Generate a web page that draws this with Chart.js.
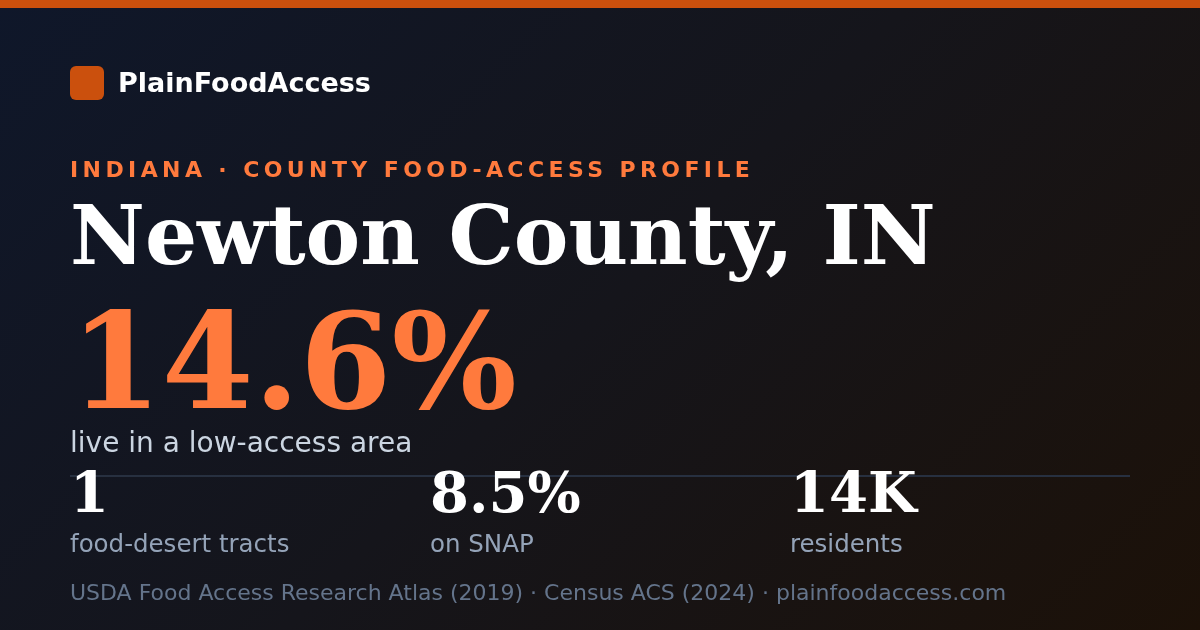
<!DOCTYPE html>
<html>
<head>
<meta charset="utf-8">
<script src="https://cdn.jsdelivr.net/npm/chart.js@4.4.1/dist/chart.umd.min.js"></script>
<style>
  html, body { margin: 0; padding: 0; background: #13151c; }
  #wrap { width: 1200px; height: 630px; position: relative; }
</style>
</head>
<body>
<div id="wrap"><canvas id="card"></canvas></div>
<script>
// card content
const brand = 'PlainFoodAccess';
const eyebrow = 'INDIANA · COUNTY FOOD-ACCESS PROFILE';
const county = 'Newton County, IN';
const headline = '14.6%';
const headlineLabel = 'live in a low-access area';
const statValues = ['1', '8.5%', '14K'];
const statLabels = ['food-desert tracts', 'on SNAP', 'residents'];
const footer = 'USDA Food Access Research Atlas (2019) · Census ACS (2024) · plainfoodaccess.com';

const SANS = '"DejaVu Sans", sans-serif';
const SERIF = '"DejaVu Serif", serif';

const cardPlugin = {
  id: 'card',
  beforeDraw(chart) {
    const c = chart.ctx, w = chart.width, h = chart.height;
    c.save();
    // 135deg gradient like css
    const half = (w + h) * Math.SQRT1_2 / 2 * Math.SQRT1_2;
    const g = c.createLinearGradient(w / 2 - half, h / 2 - half, w / 2 + half, h / 2 + half);
    g.addColorStop(0, '#0f172a');
    g.addColorStop(0.5, '#15151b');
    g.addColorStop(1, '#1c1108');
    c.fillStyle = g;
    c.fillRect(0, 0, w, h);
    // top strip
    c.fillStyle = '#cb500d';
    c.fillRect(0, 0, w, 8);
    c.restore();
  },
  afterDraw(chart) {
    const c = chart.ctx;
    c.save();
    c.textBaseline = 'alphabetic';
    c.textAlign = 'left';

    // logo
    c.fillStyle = '#cb500d';
    c.beginPath();
    c.roundRect(70, 66, 34, 34, 6);
    c.fill();
    c.fillStyle = '#ffffff';
    c.font = 'bold 27px ' + SANS;
    c.fillText(brand, 118, 92);

    // eyebrow
    c.fillStyle = '#ff7a3d';
    c.font = 'bold 22px ' + SANS;
    c.letterSpacing = '4.4px';
    c.fillText(eyebrow, 70, 177);
    c.letterSpacing = '0px';

    // county name
    c.fillStyle = '#ffffff';
    c.font = 'bold 82px ' + SERIF;
    c.fillText(county, 70, 264);

    // headline number
    c.fillStyle = '#ff7a3d';
    c.font = 'bold 132px ' + SERIF;
    c.fillText(headline, 70, 408);

    c.fillStyle = '#cbd5e1';
    c.font = '28px ' + SANS;
    c.fillText(headlineLabel, 70, 452);

    // divider
    c.strokeStyle = '#273040';
    c.lineWidth = 2;
    c.beginPath();
    c.moveTo(70, 476);
    c.lineTo(1130, 476);
    c.stroke();

    // stats placed through the x scale
    const meta = chart.getDatasetMeta(0);
    meta.data.forEach((pt, i) => {
      c.fillStyle = '#ffffff';
      c.font = 'bold 56px ' + SERIF;
      c.fillText(statValues[i], pt.x, 512);
      c.fillStyle = '#94a3b8';
      c.font = '24.5px ' + SANS;
      c.fillText(statLabels[i], pt.x, 552);
    });

    // footer
    c.fillStyle = '#64748b';
    c.font = '22px ' + SANS;
    c.fillText(footer, 70, 600);
    c.restore();
  }
};

new Chart(document.getElementById('card'), {
  type: 'scatter',
  data: {
    datasets: [{
      data: statValues.map((v, i) => ({ x: i, y: 0 })),
      pointRadius: 0,
      pointHoverRadius: 0
    }]
  },
  options: {
    responsive: true,
    maintainAspectRatio: false,
    animation: false,
    events: [],
    layout: { padding: { left: 70, right: 50, top: 0, bottom: 0 } },
    plugins: { legend: { display: false }, tooltip: { enabled: false } },
    scales: {
      x: { type: 'linear', min: 0, max: 3, display: false },
      y: { min: -1, max: 1, display: false }
    }
  },
  plugins: [cardPlugin]
});
</script>
</body>
</html>
